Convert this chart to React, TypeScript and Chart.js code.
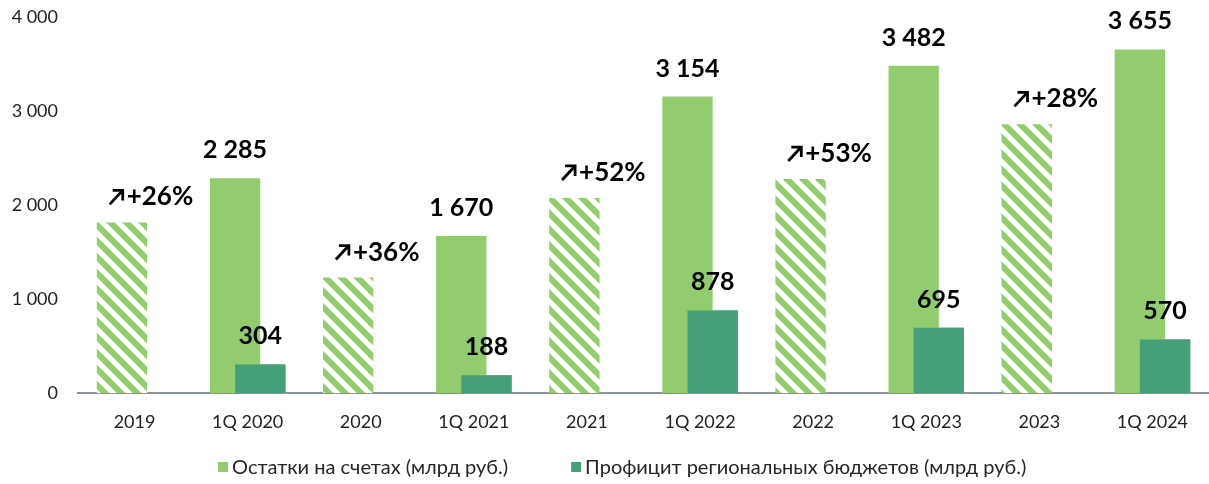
import React, { useEffect, useRef } from "react";
import { Chart, registerables } from "chart.js";

Chart.register(...registerables);

const categories = ["2019", "1Q 2020", "2020", "1Q 2021", "2021", "1Q 2022", "2022", "1Q 2023", "2023", "1Q 2024"];
const balances = [1815, 2285, 1228, 1670, 2075, 3154, 2276, 3482, 2858, 3655];
const surplus = [null, 304, null, 188, null, 878, null, 695, null, 570];
const fullYear = [true, false, true, false, true, false, true, false, true, false];
const growthLabels = ["+26%", null, "+36%", null, "+52%", null, "+53%", null, "+28%", null];
const seriesNames = ["Остатки на счетах (млрд руб.)", "Профицит региональных бюджетов (млрд руб.)"];
const yTicks = [0, 1000, 2000, 3000, 4000];

const LIGHT = "#92CC6E";
const DARK = "#45A079";
const FONT = "Lato, 'Open Sans', sans-serif";

function fmt(v: number) {
  return String(v).replace(/\B(?=(\d{3})+(?!\d))/g, " ");
}

function makePattern(): CanvasPattern | string {
  const c = document.createElement("canvas");
  const s = 16;
  c.width = s;
  c.height = s;
  const g = c.getContext("2d");
  if (!g) return LIGHT;
  g.fillStyle = "#ffffff";
  g.fillRect(0, 0, s, s);
  g.strokeStyle = LIGHT;
  g.lineWidth = 6;
  for (const k of [-s, 0, s]) {
    g.beginPath();
    g.moveTo(-2, -2 + k);
    g.lineTo(s + 2, s + 2 + k);
    g.stroke();
  }
  const p = g.createPattern(c, "repeat");
  return p || LIGHT;
}

function drawArrow(ctx: CanvasRenderingContext2D, x: number, yBase: number) {
  const x0 = x + 1;
  const y0 = yBase - 1;
  const x1 = x + 14;
  const y1 = yBase - 15;
  ctx.save();
  ctx.strokeStyle = "#000000";
  ctx.lineWidth = 2.8;
  ctx.lineCap = "butt";
  ctx.beginPath();
  ctx.moveTo(x0, y0);
  ctx.lineTo(x1 - 1, y1 + 1);
  ctx.stroke();
  ctx.beginPath();
  ctx.moveTo(x1 - 10, y1);
  ctx.lineTo(x1, y1);
  ctx.lineTo(x1, y1 + 10);
  ctx.stroke();
  ctx.restore();
}

const labelPlugin = {
  id: "valueLabels",
  afterDatasetsDraw(chart: any) {
    const ctx = chart.ctx;
    const m0 = chart.getDatasetMeta(0);
    const m1 = chart.getDatasetMeta(1);
    // draw surplus bars on top of the overlapping balance bars
    ctx.save();
    m1.data.forEach((el: any, i: number) => {
      if (surplus[i] != null) el.draw(ctx, chart.chartArea);
    });
    ctx.restore();

    ctx.save();
    ctx.fillStyle = "#000000";
    ctx.textBaseline = "alphabetic";
    categories.forEach((_, i) => {
      const b0 = m0.data[i];
      if (!fullYear[i]) {
        ctx.font = `bold 25px ${FONT}`;
        ctx.textAlign = "center";
        ctx.fillText(fmt(balances[i] as number), b0.x, b0.y - 20);
        const v = surplus[i];
        if (v != null) {
          const b1 = m1.data[i];
          ctx.fillText(fmt(v), b1.x, b1.y - 20);
        }
      } else {
        const g = growthLabels[i];
        if (g) {
          ctx.font = `bold 26px ${FONT}`;
          const tw = ctx.measureText(g).width;
          const total = 18 + tw;
          const left = b0.x + 29 - total / 2;
          const yb = b0.y - 17;
          drawArrow(ctx, left, yb);
          ctx.textAlign = "left";
          ctx.fillText(g, left + 18, yb);
        }
      }
    });
    ctx.restore();
  },
  afterDraw(chart: any) {
    const ctx = chart.ctx;
    ctx.save();
    ctx.font = `20px ${FONT}`;
    ctx.textBaseline = "middle";
    ctx.textAlign = "left";
    let x = 218;
    const y = 467;
    seriesNames.forEach((n, i) => {
      ctx.fillStyle = i === 0 ? LIGHT : DARK;
      ctx.fillRect(x, y - 5, 10, 10);
      ctx.fillStyle = "#262626";
      ctx.fillText(n, x + 14, y + 1);
      x += 14 + ctx.measureText(n).width + 63;
    });
    ctx.restore();
  },
};

export default function App() {
  const ref = useRef<HTMLCanvasElement | null>(null);

  useEffect(() => {
    document.body.style.margin = "0";
    const pattern = makePattern();
    const lightColors = fullYear.map((f) => (f ? pattern : LIGHT));
    const chart = new Chart(ref.current as HTMLCanvasElement, {
      type: "bar",
      data: {
        labels: categories,
        datasets: [
          {
            label: seriesNames[0],
            data: balances,
            backgroundColor: lightColors as any,
            borderWidth: 0,
            categoryPercentage: 0.445,
            barPercentage: 2.0,
          },
          {
            label: seriesNames[1],
            data: surplus as any,
            backgroundColor: DARK,
            borderWidth: 0,
            categoryPercentage: 0.445,
            barPercentage: 2.0,
          },
        ],
      },
      options: {
        animation: false,
        responsive: false,
        maintainAspectRatio: false,
        layout: { padding: 0 },
        plugins: {
          tooltip: { enabled: false },
          legend: { display: false },
        },
        scales: {
          x: {
            afterFit: (s: any) => {
              s.height = 91;
            },
            grid: { display: false, drawTicks: false },
            border: { display: true, color: "#8a949c", width: 2 },
            ticks: { font: { family: FONT, size: 18 }, color: "#222222", padding: 18 },
          },
          y: {
            min: 0,
            max: 4000,
            afterFit: (s: any) => {
              s.width = 78;
              s.paddingTop = 17;
              s.paddingBottom = 0;
            },
            afterBuildTicks: (s: any) => {
              s.ticks = yTicks.map((v) => ({ value: v }));
            },
            grid: { display: false, drawTicks: false },
            border: { display: false },
            ticks: {
              font: { family: FONT, size: 18 },
              color: "#222222",
              padding: 20,
              callback: (v: any) => fmt(Number(v)),
            },
          },
        },
      },
      plugins: [labelPlugin],
    });
    return () => chart.destroy();
  }, []);

  return (
    <div style={{ width: 1209, height: 484 }}>
      <canvas ref={ref} width={1209} height={484} style={{ width: 1209, height: 484, display: "block" }} />
    </div>
  );
}
